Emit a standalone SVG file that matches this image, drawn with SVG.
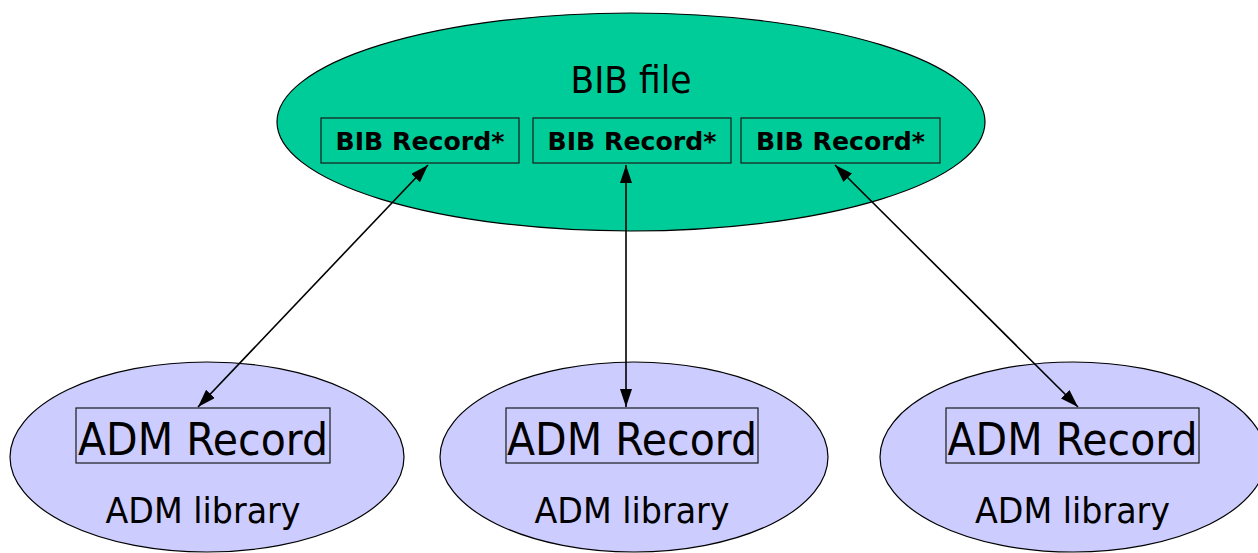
<svg xmlns="http://www.w3.org/2000/svg" width="1258" height="553" viewBox="0 0 1258 553">
<style>
.bib{fill:#00CC99;stroke:#000;stroke-width:1.2}
.adm{fill:#CCCCFF;stroke:#000;stroke-width:1.2}
.box{fill:none;stroke:#1a1a1a;stroke-width:1.2}
.t{font-family:"DejaVu Sans","Liberation Sans",sans-serif;fill:#000;text-anchor:middle}
.big{font-size:45px}
.mid{font-size:36px}
.rec{font-size:24px;font-weight:bold}
.title{font-size:37px}
.conn{stroke:#000;stroke-width:1.6;fill:none;marker-start:url(#ah);marker-end:url(#ah)}
</style>
<defs>
<marker id="ah" viewBox="0 0 18 12" refX="18" refY="6" markerWidth="18" markerHeight="12" markerUnits="userSpaceOnUse" orient="auto-start-reverse">
<path d="M0,0 L18,6 L0,12 Z" fill="#000"/>
</marker>
</defs>
<g id="bib-file">
<ellipse class="bib" cx="631" cy="122" rx="354" ry="109"/>
<text class="t title" x="631" y="93" textLength="121" lengthAdjust="spacingAndGlyphs">BIB file</text>
</g>
<g id="bib-record-1">
<rect class="box" x="321" y="118" width="198" height="45"/>
<text class="t rec" x="420" y="150" textLength="169" lengthAdjust="spacingAndGlyphs">BIB Record*</text>
</g>
<g id="bib-record-2">
<rect class="box" x="533" y="118" width="198" height="45"/>
<text class="t rec" x="632" y="150" textLength="169" lengthAdjust="spacingAndGlyphs">BIB Record*</text>
</g>
<g id="bib-record-3">
<rect class="box" x="741" y="118" width="199" height="45"/>
<text class="t rec" x="840.5" y="150" textLength="169" lengthAdjust="spacingAndGlyphs">BIB Record*</text>
</g>
<g id="adm-library-1">
<ellipse class="adm" cx="207" cy="457" rx="197" ry="95"/>
<rect class="box" x="76" y="408" width="254" height="55"/>
<text class="t big" x="203" y="455" textLength="250" lengthAdjust="spacingAndGlyphs">ADM Record</text>
<text class="t mid" x="203" y="523" textLength="195" lengthAdjust="spacingAndGlyphs">ADM library</text>
</g>
<g id="adm-library-2">
<ellipse class="adm" cx="634" cy="457" rx="194" ry="95"/>
<rect class="box" x="506" y="408" width="252" height="55"/>
<text class="t big" x="632" y="455" textLength="250" lengthAdjust="spacingAndGlyphs">ADM Record</text>
<text class="t mid" x="632" y="523" textLength="195" lengthAdjust="spacingAndGlyphs">ADM library</text>
</g>
<g id="adm-library-3">
<ellipse class="adm" cx="1073" cy="457" rx="193" ry="95"/>
<rect class="box" x="946" y="408" width="253" height="55"/>
<text class="t big" x="1072.5" y="455" textLength="250" lengthAdjust="spacingAndGlyphs">ADM Record</text>
<text class="t mid" x="1072.5" y="523" textLength="195" lengthAdjust="spacingAndGlyphs">ADM library</text>
</g>
<g id="connectors">
<line class="conn" x1="428" y1="165" x2="198" y2="407"/>
<line class="conn" x1="626" y1="165" x2="626" y2="407"/>
<line class="conn" x1="835" y1="165" x2="1078" y2="407"/>
</g>
</svg>
